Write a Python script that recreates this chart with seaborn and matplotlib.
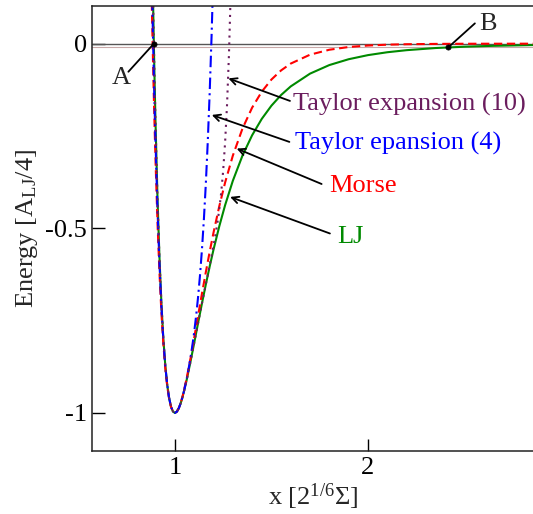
import matplotlib
matplotlib.use("Agg")
import matplotlib.pyplot as plt
import seaborn as sns

# x grid for the Lennard-Jones and Morse curves
x_full = [0.88, 0.885, 0.89, 0.895, 0.9, 0.91, 0.92, 0.93, 0.94, 0.95, 0.96, 0.97, 0.98, 0.99, 1.0,
          1.01, 1.02, 1.03, 1.04, 1.06, 1.08, 1.1, 1.12, 1.14, 1.16, 1.18, 1.2, 1.23, 1.26, 1.3,
          1.35, 1.4, 1.45, 1.5, 1.55, 1.6, 1.7, 1.8, 1.9, 2.0, 2.1, 2.2, 2.35, 2.5, 2.65, 2.86]
lj_energy = [0.3301, 0.1693, 0.0244, -0.1058, -0.2226, -0.4209, -0.5785, -0.7023, -0.7979, -0.8701,
             -0.9230, -0.9598, -0.9834, -0.9961, -1.0000, -0.9966, -0.9874, -0.9736, -0.9560, -0.9130,
             -0.8632, -0.8103, -0.7566, -0.7036, -0.6524, -0.6036, -0.5576, -0.4942, -0.4374, -0.3714,
             -0.3031, -0.2480, -0.2036, -0.1679, -0.1390, -0.1157, -0.0811, -0.0579, -0.0421, -0.0310,
             -0.0232, -0.0176, -0.0118, -0.0082, -0.0058, -0.0037]
morse_energy = [0.1118, -0.0125, -0.1262, -0.2298, -0.3241, -0.4873, -0.6204, -0.7276, -0.8122, -0.8776,
                -0.9264, -0.9611, -0.9838, -0.9962, -1.0000, -0.9966, -0.9872, -0.9729, -0.9545, -0.9086,
                -0.8547, -0.7964, -0.7366, -0.6771, -0.6192, -0.5639, -0.5117, -0.4399, -0.3761, -0.3033,
                -0.2299, -0.1732, -0.1299, -0.0971, -0.0724, -0.0539, -0.0298, -0.0164, -0.0090, -0.0050,
                -0.0027, -0.0015, -0.0006, -0.0002, -0.0001, 0.0000]

# x grid for the Taylor expansions
x_taylor = [0.88, 0.885, 0.89, 0.895, 0.9, 0.91, 0.92, 0.93, 0.94, 0.95, 0.96, 0.97, 0.98, 0.99, 1.0,
            1.01, 1.02, 1.03, 1.04, 1.05, 1.06, 1.07, 1.08, 1.09, 1.1, 1.11, 1.12, 1.13, 1.14, 1.15,
            1.16, 1.17, 1.18, 1.19, 1.2, 1.21, 1.22, 1.23, 1.24, 1.25, 1.26, 1.27, 1.28, 1.29, 1.3]
taylor4_energy = [0.1846, 0.0540, -0.0660, -0.1761, -0.2767, -0.4517, -0.5950, -0.7104, -0.8015, -0.8715,
                  -0.9234, -0.9599, -0.9834, -0.9961, -1.0000, -0.9966, -0.9874, -0.9735, -0.9557, -0.9345,
                  -0.9104, -0.8833, -0.8530, -0.8191, -0.7807, -0.7369, -0.6863, -0.6274, -0.5583, -0.4770,
                  -0.3812, -0.2681, -0.1349, 0.0216, 0.2048, 0.4184, 0.6664, 0.9529, 1.2826, 1.6602,
                  2.0906, 2.5792, 3.1316, 3.7536, 4.4513]
taylor10_energy = [0.3300, 0.1692, 0.0244, -0.1058, -0.2227, -0.4209, -0.5785, -0.7023, -0.7979, -0.8701,
                   -0.9230, -0.9598, -0.9834, -0.9961, -1.0000, -0.9966, -0.9874, -0.9736, -0.9560, -0.9356,
                   -0.9130, -0.8887, -0.8632, -0.8370, -0.8103, -0.7834, -0.7565, -0.7298, -0.7034, -0.6773,
                   -0.6515, -0.6259, -0.6003, -0.5744, -0.5474, -0.5184, -0.4861, -0.4483, -0.4023, -0.3439,
                   -0.2676, -0.1661, -0.0293, 0.1560, 0.4070]

# marked points A and B
point_labels = ['A', 'B']
point_x = [0.891, 2.416]
point_y = [0.0, -0.010]

curve_labels = ['Taylor expansion (10)', 'Taylor epansion (4)', 'Morse', 'LJ']
x_ticks = [1, 2]
x_ticklabels = ['1', '2']
y_ticks = [0, -0.5, -1]
y_ticklabels = ['0', '-0.5', '-1']

sns.set_theme(style="ticks")
plt.rcParams['font.family'] = ['Liberation Serif', 'DejaVu Serif']
plt.rcParams['mathtext.fontset'] = 'custom'
plt.rcParams['mathtext.rm'] = 'Liberation Serif'
plt.rcParams['mathtext.it'] = 'Liberation Serif:italic'

fig = plt.figure(figsize=(5.33, 5.14), dpi=100)
ax = fig.add_axes([0.1735, 0.1226, 0.8265, 0.8657])
ax.axhline(0, color='#555555', lw=1.0, zorder=1)
ax.axhline(-0.008, color='#c8a8a8', lw=0.8, zorder=1)

green, red, blue, purple = '#008a00', '#ff0000', '#0000ff', '#6b1d5e'
sns.lineplot(x=x_full, y=lj_energy, ax=ax, color=green, lw=1.5, sort=False, estimator=None)
sns.lineplot(x=x_full, y=morse_energy, ax=ax, color=red, lw=1.5, sort=False, estimator=None)
ax.lines[-1].set_dashes([4, 2.2])
sns.lineplot(x=x_taylor, y=taylor4_energy, ax=ax, color=blue, lw=1.5, sort=False, estimator=None)
ax.lines[-1].set_dashes([5.5, 2, 1, 2])
sns.lineplot(x=x_taylor, y=taylor10_energy, ax=ax, color=purple, lw=1.5, sort=False, estimator=None)
ax.lines[-1].set_dashes([1, 2.3])

sns.scatterplot(x=point_x, y=point_y, ax=ax, color='black', s=14, edgecolor='black', linewidth=0.5, zorder=5)

ax.set_xlim(0.573, 2.855)
ax.set_ylim(-1.103, 0.102)
ax.set_xticks(x_ticks); ax.set_xticklabels(x_ticklabels)
ax.set_yticks(y_ticks); ax.set_yticklabels(y_ticklabels)
ax.tick_params(direction='in', length=9, width=1, labelsize=19, pad=4, colors='black')
for sp in ['left', 'bottom', 'top']:
    ax.spines[sp].set_linewidth(1.1); ax.spines[sp].set_color('#222222')
ax.spines['right'].set_visible(False)
ax.set_xlabel(r'x [2$^{1/6}$$\Sigma$]', fontsize=19, labelpad=2)
ax.set_ylabel(r'Energy [A$_{\mathrm{LJ}}$/4]', fontsize=19, labelpad=4)

ap = dict(arrowstyle='->', lw=1.3, color='black', shrinkA=0, shrinkB=0)
text_pos = [(1.613, -0.180), (1.622, -0.288), (1.798, -0.401), (1.841, -0.540)]
tails = [(1.596, -0.155), (1.593, -0.266), (1.760, -0.380), (1.803, -0.514)]
tips = [(1.277, -0.094), (1.191, -0.193), (1.320, -0.284), (1.286, -0.415)]
colors = [purple, blue, red, green]
for lab, tp, tl, tip, c in zip(curve_labels, text_pos, tails, tips, colors):
    ax.text(tp[0], tp[1], lab, color=c, fontsize=19, ha='left', va='baseline')
    ax.annotate('', xy=tip, xytext=tl, arrowprops=ap)

lp = dict(arrowstyle='-', lw=1.3, color='black', shrinkA=0, shrinkB=0)
ax.text(0.723, -0.093, point_labels[0], fontsize=19, ha='center', va='center')
ax.annotate('', xy=(point_x[0], point_y[0]), xytext=(0.759, -0.076), arrowprops=lp)
ax.text(2.624, 0.053, point_labels[1], fontsize=19, ha='center', va='center')
ax.annotate('', xy=(point_x[1], point_y[1]), xytext=(2.554, 0.055), arrowprops=lp)

fig.savefig('out.png', dpi=100)
